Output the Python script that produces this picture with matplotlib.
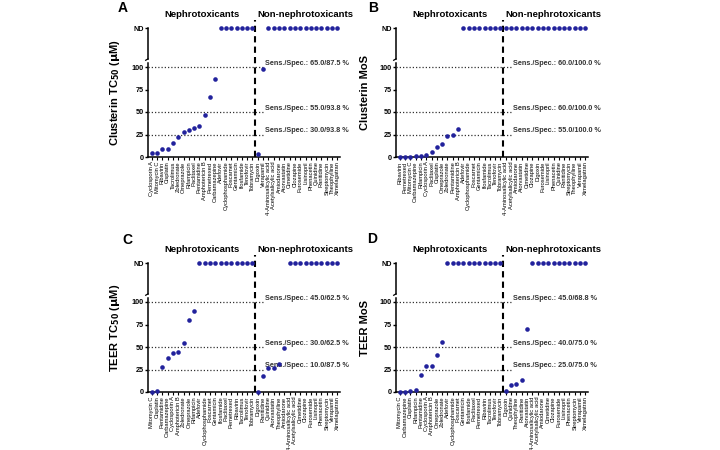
import numpy as np
import matplotlib.pyplot as plt
from matplotlib.transforms import blended_transform_factory

plt.rcParams['font.family'] = ['Liberation Sans', 'DejaVu Sans']

ND = None
ND_VAL = 143
cutoffs = [100, 50, 25]
yticks = [0, 25, 50, 75, 100, ND_VAL]
ytick_labels = ["0", "25", "50", "75", "100", "ND"]

# Panel A - Clusterin TC50
a_names = ["Cyclosporin A", "Mitomycin C", "Ribavirin", "Cisplatin", "Tacrolimus",
           "Zoledronate", "Omeprazole", "Rifampicin", "Paclitaxel", "Pentamidine",
           "Amphotericin B", "Pemetrexed", "Carbamazepine", "Adefovir", "Cyclophosphamide",
           "Foscarnet", "Gentamicin", "Ifosfamide", "Tenofovir", "Tobramycin",
           "Digoxin", "Verapamil", "4-Aminosalicylic acid", "Acetylsalicylic acid",
           "Amiodarone", "Atorvastatin", "Cimetidine", "Clozapine", "Furosemide",
           "Lisinopril", "Phenacetin", "Quinidine", "Ranitidine", "Streptomycin",
           "Theophylline", "Ximelagatran"]
a_vals = [4, 4, 9, 9, 16, 22, 28, 30, 32, 35, 47, 67, 87] + [ND] * 7 + [3, 98] + [ND] * 14
a_sens = ["65.0/87.5", "55.0/93.8", "30.0/93.8"]

# Panel B - Clusterin MoS
b_names = ["Ribavirin", "Pemetrexed", "Mitomycin C", "Carbamazepine", "Rifampicin",
           "Cyclosporin A", "Paclitaxel", "Cisplatin", "Omeprazole", "Zoledronate",
           "Pentamidine", "Amphotericin B", "Adefovir", "Cyclophosphamide", "Foscarnet",
           "Gentamicin", "Ifosfamide", "Tacrolimus", "Tenofovir", "Tobramycin",
           "4-Aminosalicylic acid", "Acetylsalicylic acid", "Amiodarone", "Atorvastatin",
           "Cimetidine", "Clozapine", "Digoxin", "Furosemide", "Lisinopril", "Phenacetin",
           "Quinidine", "Ranitidine", "Streptomycin", "Theophylline", "Verapamil",
           "Ximelagatran"]
b_vals = [0, 0, 0.5, 1, 1.5, 2.5, 6, 11, 15, 23, 24, 31] + [ND] * 8 + [ND] * 16
b_sens = ["60.0/100.0", "60.0/100.0", "55.0/100.0"]

# Panel C - TEER TC50
c_names = ["Mitomycin C", "Cisplatin", "Pentamidine", "Carbamazepine", "Cyclosporin A",
           "Amphotericin B", "Zoledronate", "Omeprazole", "Rifampicin", "Adefovir",
           "Cyclophosphamide", "Foscarnet", "Gentamicin", "Ifosfamide", "Paclitaxel",
           "Pemetrexed", "Ribavirin", "Tacrolimus", "Tenofovir", "Tobramycin",
           "Digoxin", "Ranitidine", "Quinidine", "Atorvastatin", "Theophylline",
           "Amiodarone", "4-Aminosalicylic acid", "Acetylsalicylic acid", "Cimetidine",
           "Clozapine", "Furosemide", "Lisinopril", "Phenacetin", "Streptomycin",
           "Verapamil", "Ximelagatran"]
c_vals = [0, 1, 28, 38, 43, 44, 54, 80, 90] + [ND] * 11 + [0, 18, 27, 27, 31, 49] + [ND] * 10
c_sens = ["45.0/62.5", "30.0/62.5", "10.0/87.5"]

# Panel D - TEER MoS
d_names = ["Mitomycin C", "Carbamazepine", "Cisplatin", "Rifampicin", "Pentamidine",
           "Cyclosporin A", "Amphotericin B", "Omeprazole", "Zoledronate", "Adefovir",
           "Cyclophosphamide", "Foscarnet", "Gentamicin", "Ifosfamide", "Paclitaxel",
           "Pemetrexed", "Ribavirin", "Tacrolimus", "Tenofovir", "Tobramycin",
           "Digoxin", "Quinidine", "Theophylline", "Ranitidine", "Atorvastatin",
           "4-Aminosalicylic acid", "Acetylsalicylic acid", "Amiodarone", "Cimetidine",
           "Clozapine", "Furosemide", "Lisinopril", "Phenacetin", "Streptomycin",
           "Verapamil", "Ximelagatran"]
d_vals = [0, 0.5, 1.5, 2, 19, 29, 29, 41, 56] + [ND] * 11 + [1, 8, 9, 13, 70] + [ND] * 11
d_sens = ["45.0/68.8", "40.0/75.0", "25.0/75.0"]

n_neph = 20
dot_color = "#22229c"


def draw_panel(ax, names, vals, sens, ylabel):
    x = np.arange(len(names))
    y = [ND_VAL if v is None else v for v in vals]
    ax.plot(x, y, "o", ms=3.3, color=dot_color, mec="none", clip_on=False, zorder=5)

    ax.set_xlim(-0.7, 35.5)
    ax.set_ylim(0, 155)
    for s in ["top", "right", "left"]:
        ax.spines[s].set_visible(False)
    ax.spines["bottom"].set_linewidth(1.1)

    # broken left axis
    tr = blended_transform_factory(ax.transAxes, ax.transData)
    ax.plot([0, 0], [0, 105], color="k", lw=1.1, transform=tr, clip_on=False)
    ax.plot([0, 0], [109, ND_VAL], color="k", lw=1.1, transform=tr, clip_on=False)
    ax.plot([0, -0.012], [109, 107.5], color="k", lw=0.9, transform=tr, clip_on=False)

    ax.set_yticks(yticks)
    ax.set_yticklabels(ytick_labels, fontsize=5.2, fontweight="bold")
    ax.tick_params(axis="y", length=2.2, width=1.0, pad=1)
    ax.set_xticks(x)
    ax.set_xticklabels(names, rotation=90, fontsize=4.15)
    ax.tick_params(axis="x", length=2.2, width=0.8, pad=1)

    # cut-off lines and sensitivity/specificity labels
    for cut, txt in zip(cutoffs, sens):
        ax.plot([-0.7, 21.2], [cut, cut], color="#333333", lw=0.9,
                ls=(0, (1, 1.6)), zorder=2)
        ax.text(21.3, cut + 0.5, "Sens./Spec.: " + txt + " %", fontsize=5.2,
                fontweight="bold", color="#333333", va="bottom", ha="left")

    ax.plot([n_neph - 0.5, n_neph - 0.5], [0, 152], color="k", lw=1.5,
            ls=(0, (3, 2)), clip_on=False, zorder=3)
    ax.text(9.5, 158, "Nephrotoxicants", fontsize=6.8, fontweight="bold",
            ha="center", va="center", clip_on=False)
    ax.text(19.9, 158, "Non-nephrotoxicants", fontsize=6.8, fontweight="bold",
            ha="left", va="center", clip_on=False)

    ax.set_ylabel(ylabel, fontsize=8, fontweight="bold")
    ax.yaxis.set_label_coords(-0.135, 0.46)


fig = plt.figure(figsize=(7.2, 4.5), dpi=100)
w, h = 192 / 720, 139.5 / 450
axA = fig.add_axes([148 / 720, 293 / 450, w, h])
axB = fig.add_axes([396 / 720, 293 / 450, w, h])
axC = fig.add_axes([148 / 720, 58 / 450, w, h])
axD = fig.add_axes([396 / 720, 58 / 450, w, h])

draw_panel(axA, a_names, a_vals, a_sens, r"Clusterin TC$_{\mathbf{50}}$ ($\mathbf{\mu}$M)")
draw_panel(axB, b_names, b_vals, b_sens, "Clusterin MoS")
draw_panel(axC, c_names, c_vals, c_sens, r"TEER TC$_{\mathbf{50}}$ ($\mathbf{\mu}$M)")
draw_panel(axD, d_names, d_vals, d_sens, "TEER MoS")

for letter, px, py in [("A", 118, 1), ("B", 368, 1), ("C", 122, 233), ("D", 367, 232)]:
    fig.text(px / 720, 1 - py / 450, letter, fontsize=10, fontweight="bold",
             ha="left", va="top")

fig.savefig("out.png", dpi=100)
